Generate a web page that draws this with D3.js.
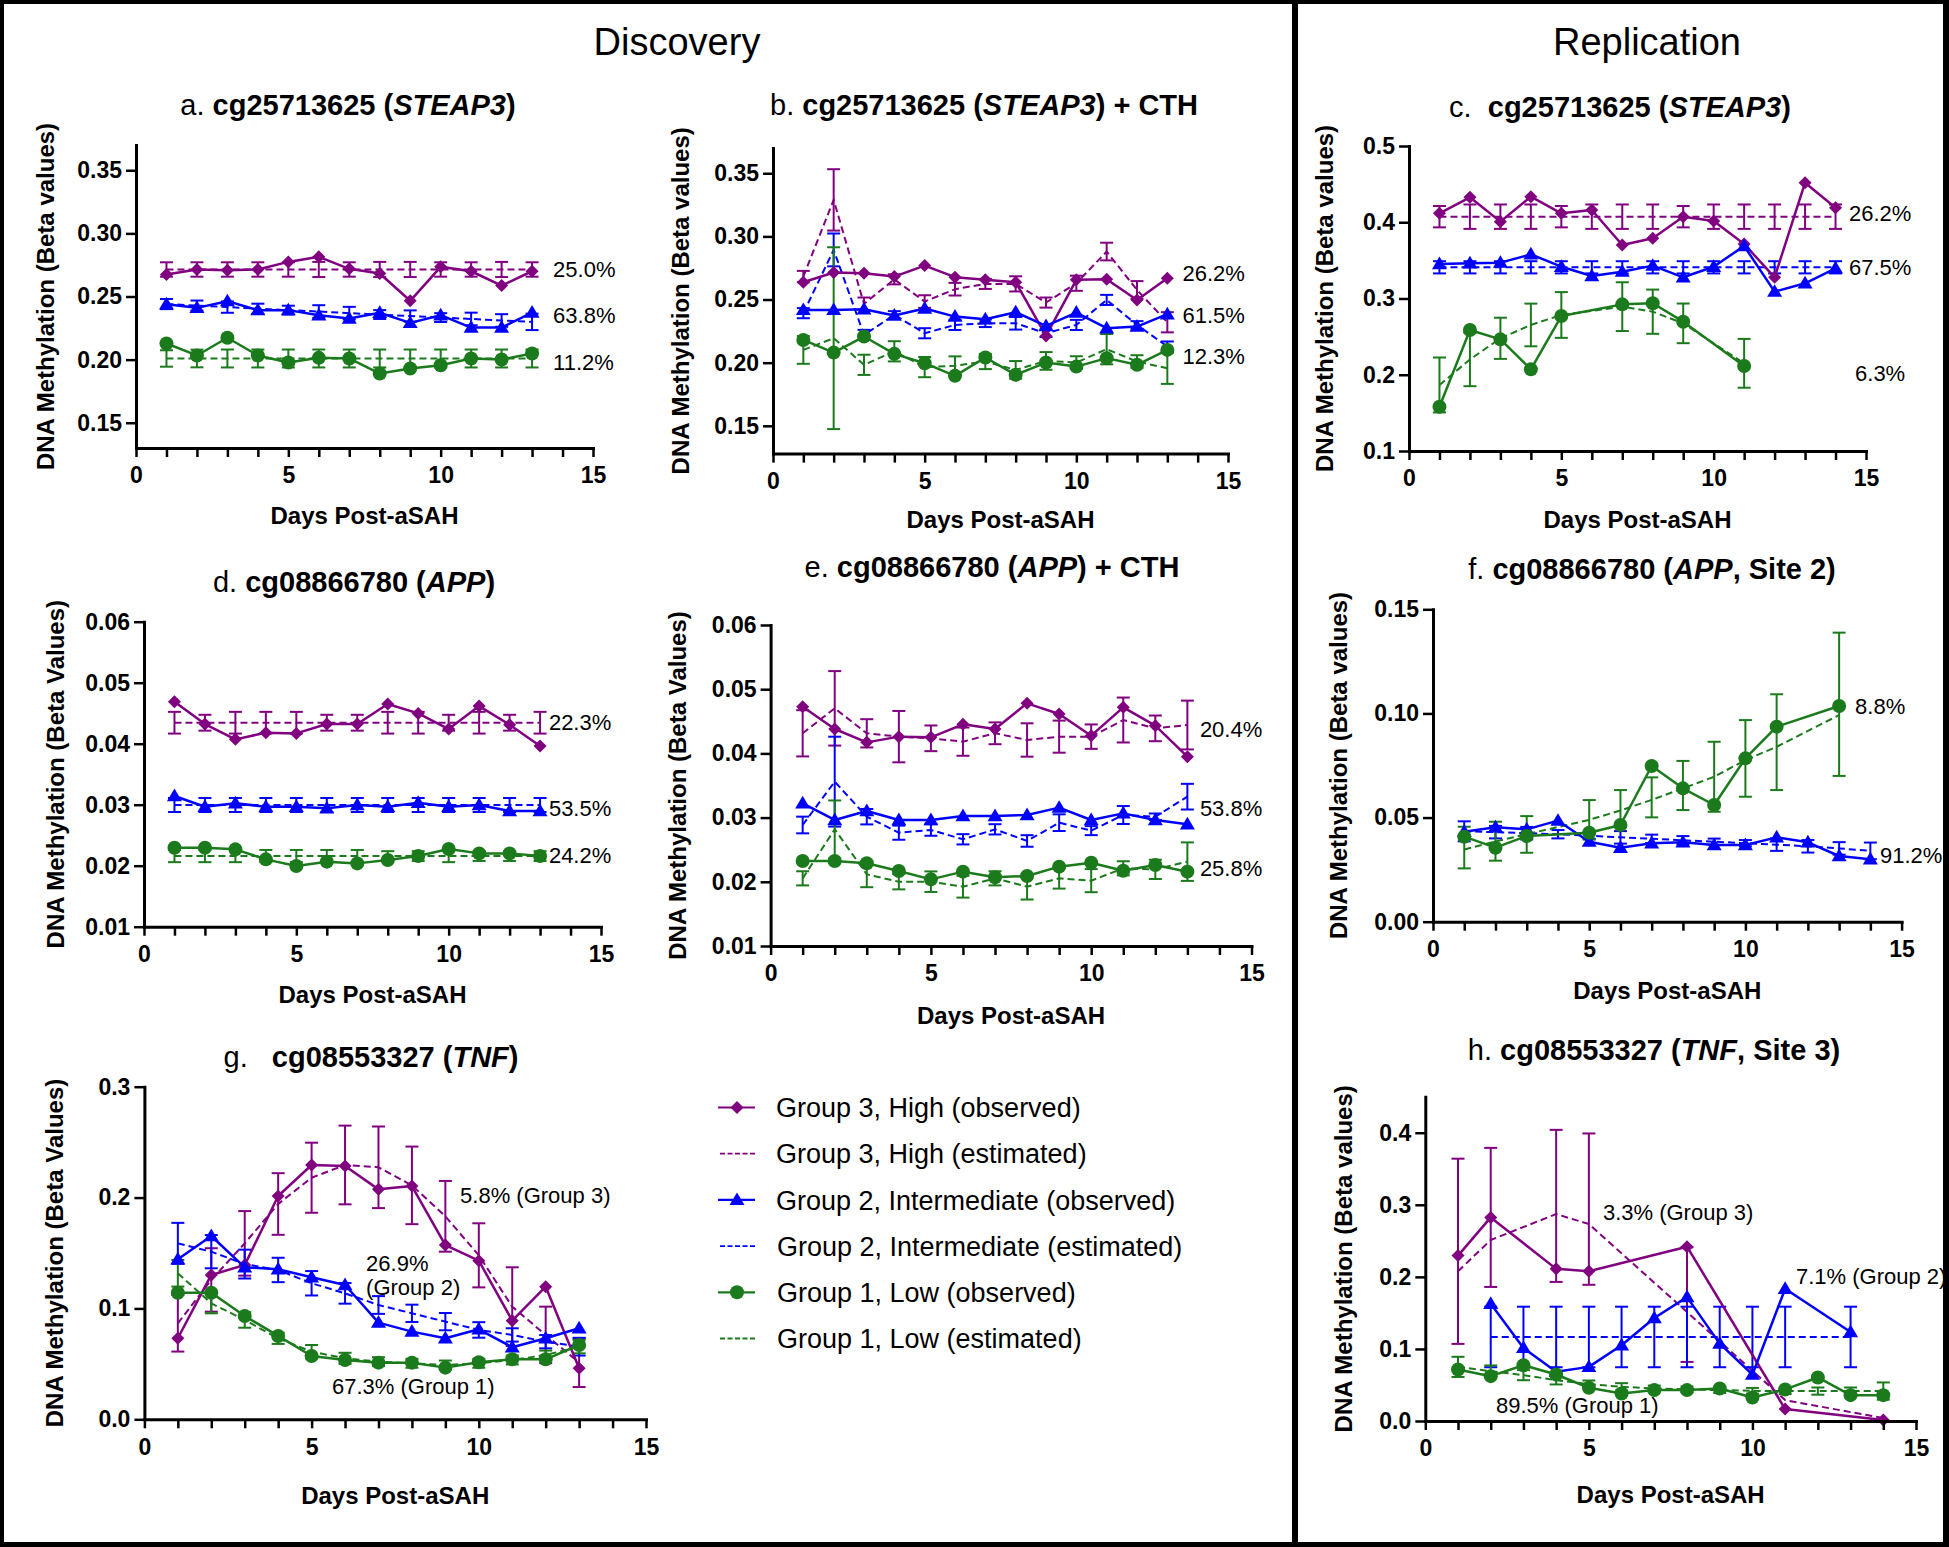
<!DOCTYPE html>
<html><head><meta charset="utf-8">
<script src="https://cdn.jsdelivr.net/npm/d3@7/dist/d3.min.js"></script>
<style>
html,body{margin:0;padding:0;background:#fff;}
svg{display:block;}
text{font-family:"Liberation Sans",Arial,Helvetica,sans-serif;}
</style></head><body>
<svg id="fig" width="1949" height="1547"></svg>
<script>
// ---------------- DATA ----------------
const X_TICKS = [0, 5, 10, 15];
const SECTION_TITLES = ["Discovery", "Replication"];
const LEGEND_LABELS = ["Group 3, High (observed)", "Group 3, High (estimated)",
  "Group 2, Intermediate (observed)", "Group 2, Intermediate (estimated)",
  "Group 1, Low (observed)", "Group 1, Low (estimated)"];

// a. cg25713625 (STEAP3) – discovery
const a_high_obs = [0.2674,0.2714,0.2708,0.2714,0.2774,0.2814,0.2719,0.2682,0.2466,0.2735,0.2700,0.2587,0.2700];
const a_high_est = [0.2714,0.2714,0.2714,0.2714,0.2714,0.2714,0.2714,0.2714,0.2714,0.2714,0.2714,0.2714,0.2714];
const a_high_err = [0.0057,0.0057,0.0057,0.0057,0.0057,0.0060,0.0057,0.0060,0.0060,0.0057,0.0057,0.0060,0.0057];
const a_mid_obs  = [0.2439,0.2410,0.2463,0.2392,0.2392,0.2352,0.2326,0.2371,0.2291,0.2352,0.2254,0.2254,0.2373];
const a_mid_est  = [0.2440,0.2428,0.2416,0.2403,0.2392,0.2381,0.2368,0.2357,0.2345,0.2333,0.2322,0.2310,0.2299];
const a_mid_err  = [0.0040,0.0040,0.0045,0.0040,0.0035,0.0050,0.0050,0.0035,0.0045,0.0035,0.0050,0.0050,0.0065];
const a_low_obs  = [0.2128,0.2033,0.2173,0.2033,0.1977,0.2014,0.2009,0.1890,0.1930,0.1956,0.2009,0.2001,0.2049];
const a_low_est  = [0.2009,0.2009,0.2009,0.2009,0.2009,0.2009,0.2009,0.2009,0.2009,0.2009,0.2009,0.2009,0.2009];
const a_low_err  = [0.0065,0.0070,0.0071,0.0071,0.0071,0.0071,0.0071,0.0071,0.0071,0.0071,0.0071,0.0071,0.0071];
const a_pcts = ["25.0%", "63.8%", "11.2%"];

// b. cg25713625 (STEAP3) + CTH
const b_high_obs = [0.2637,0.2714,0.2708,0.2682,0.2769,0.2677,0.2656,0.2637,0.2212,0.2656,0.2661,0.2497,0.2669];
const b_high_est = [0.2682,0.3289,0.2466,0.2660,0.2484,0.2582,0.2624,0.2624,0.2476,0.2629,0.2880,0.2576,0.2320];
const b_high_err = [0.0045,0.0243,0.0050,0.0040,0.0050,0.0050,0.0040,0.0060,0.0040,0.0060,0.0070,0.0070,0.0080];
const b_mid_obs  = [0.2418,0.2418,0.2423,0.2373,0.2429,0.2365,0.2344,0.2400,0.2291,0.2397,0.2273,0.2286,0.2384];
const b_mid_est  = [0.2392,0.2893,0.2220,0.2378,0.2233,0.2299,0.2312,0.2312,0.2233,0.2299,0.2497,0.2299,0.2128];
const b_mid_err  = [0.0040,0.0130,0.0040,0.0030,0.0040,0.0040,0.0030,0.0050,0.0030,0.0040,0.0040,0.0030,0.0040];
const b_low_obs  = [0.2180,0.2080,0.2207,0.2070,0.1996,0.1896,0.2041,0.1904,0.2001,0.1969,0.2036,0.1983,0.2101];
const b_low_est  = [0.2101,0.2194,0.1983,0.2090,0.1965,0.1975,0.2009,0.1943,0.2014,0.2001,0.2107,0.2009,0.1956];
const b_low_err  = [0.0110,0.0720,0.0080,0.0080,0.0080,0.0075,0.0060,0.0070,0.0070,0.0050,0.0120,0.0050,0.0124];
const b_pcts = ["26.2%", "61.5%", "12.3%"];

// c. cg25713625 (STEAP3) – replication
const c_high_obs = [0.4117,0.4327,0.4008,0.4336,0.4117,0.4161,0.3702,0.3789,0.4073,0.4016,0.3715,0.3278,0.4519,0.4191];
const c_high_est = [0.4073,0.4073,0.4073,0.4073,0.4073,0.4073,0.4073,0.4073,0.4073,0.4073,0.4073,0.4073,0.4073,0.4073];
const c_high_err = [0.0140,0.0160,0.0160,0.0160,0.0140,0.0160,0.0160,0.0160,0.0140,0.0160,0.0160,0.0160,0.0160,0.0160];
const c_mid_obs  = [0.3452,0.3461,0.3470,0.3579,0.3417,0.3295,0.3352,0.3431,0.3278,0.3417,0.3689,0.3090,0.3199,0.3396];
const c_mid_est  = [0.3409,0.3409,0.3409,0.3409,0.3409,0.3409,0.3409,0.3409,0.3409,0.3409,0.3409,0.3409,0.3409,0.3409];
const c_mid_err  = [0.0080,0.0080,0.0080,0.0080,0.0080,0.0080,0.0080,0.0080,0.0080,0.0080,0.0080,0.0080,0.0080,0.0080];
const c_low_obs  = [0.1581,0.2587,0.2464,0.2071,0.2770,null,0.2923,0.2937,0.2696,null,0.2115,null,null,null];
const c_low_est  = [0.1866,0.2200,0.2478,0.2653,0.2784,null,0.2893,0.2827,0.2674,null,0.2150,null,null,null];
const c_low_err  = [0.0360,0.0350,0.0270,0.0280,0.0300,null,0.0320,0.0290,0.0260,null,0.0320,null,null,null];
const c_pcts = ["26.2%", "67.5%", "6.3%"];

// d. cg08866780 (APP) – discovery
const d_high_obs = [0.04689,0.04322,0.04071,0.04180,0.04169,0.04322,0.04322,0.04650,0.04497,0.04240,0.04617,0.04311,0.03962];
const d_high_est = [0.04344,0.04344,0.04344,0.04344,0.04344,0.04344,0.04344,0.04344,0.04344,0.04344,0.04344,0.04344,0.04344];
const d_high_err = [0.00178,0.00130,0.00178,0.00178,0.00178,0.00130,0.00130,0.00178,0.00178,0.00130,0.00178,0.00130,0.00178];
const d_mid_obs  = [0.03142,0.02967,0.03022,0.02967,0.02967,0.02940,0.02995,0.02967,0.03033,0.02967,0.02995,0.02896,0.02896];
const d_mid_est  = [0.02995,0.02995,0.02995,0.02995,0.02995,0.02995,0.02995,0.02995,0.02995,0.02995,0.02995,0.02995,0.02995];
const d_mid_err  = [0.00115,0.00115,0.00115,0.00115,0.00115,0.00115,0.00115,0.00115,0.00115,0.00115,0.00115,0.00115,0.00115];
const d_low_obs  = [0.02295,0.02295,0.02268,0.02104,0.01995,0.02066,0.02038,0.02093,0.02158,0.02273,0.02202,0.02202,0.02158];
const d_low_est  = [0.02158,0.02158,0.02158,0.02158,0.02158,0.02158,0.02158,0.02158,0.02158,0.02158,0.02158,0.02158,0.02158];
const d_low_err  = [0.00100,0.00100,0.00100,0.00100,0.00100,0.00100,0.00100,0.00080,0.00080,0.00100,0.00080,0.00080,0.00080];
const d_pcts = ["22.3%", "53.5%", "24.2%"];

// e. cg08866780 (APP) + CTH
const e_high_obs = [0.04728,0.04380,0.04172,0.04261,0.04250,0.04453,0.04380,0.04780,0.04614,0.04276,0.04717,0.04432,0.03949];
const e_high_est = [0.04313,0.04702,0.04313,0.04261,0.04235,0.04183,0.04313,0.04209,0.04261,0.04261,0.04520,0.04390,0.04442];
const e_high_err = [0.00360,0.00580,0.00220,0.00400,0.00200,0.00220,0.00170,0.00260,0.00250,0.00190,0.00350,0.00200,0.00380];
const e_mid_obs  = [0.03222,0.02963,0.03103,0.02963,0.02963,0.03025,0.03025,0.03040,0.03155,0.02963,0.03066,0.02963,0.02896];
const e_mid_est  = [0.02885,0.03560,0.03014,0.02765,0.02807,0.02662,0.02817,0.02636,0.02921,0.02797,0.03040,0.03014,0.03326];
const e_mid_err  = [0.00130,0.00700,0.00120,0.00110,0.00090,0.00080,0.00080,0.00090,0.00130,0.00070,0.00140,0.00050,0.00200];
const e_low_obs  = [0.02324,0.02324,0.02288,0.02168,0.02038,0.02158,0.02070,0.02091,0.02236,0.02298,0.02173,0.02262,0.02158];
const e_low_est  = [0.02054,0.02817,0.02116,0.02002,0.02002,0.01924,0.02054,0.01924,0.02054,0.02018,0.02210,0.02194,0.02314];
const e_low_err  = [0.00110,0.00450,0.00200,0.00120,0.00160,0.00170,0.00110,0.00200,0.00160,0.00180,0.00110,0.00150,0.00300];
const e_pcts = ["20.4%", "53.8%", "25.8%"];

// f. cg08866780 (APP, Site 2) – replication (no Group 3)
const f_mid_obs = [0.04323,0.04531,0.04435,0.04851,0.03843,0.03554,0.03762,0.03811,0.03683,0.03683,0.04050,0.03811,0.03154,0.02994];
const f_mid_est = [0.0434,0.0430,0.0425,0.0420,0.0413,0.0405,0.0398,0.0391,0.0384,0.0377,0.0370,0.0362,0.0352,0.0340];
const f_mid_err = [0.0048,0.0030,0.0030,0.0020,0.0015,0.0030,0.0020,0.0020,0.0015,0.0015,0.0030,0.0030,0.0030,0.0040];
const f_low_obs = [0.04082,0.03554,0.04114,null,0.04274,0.04642,0.07476,0.06404,0.05603,0.07844,0.09365,null,0.10357,null];
const f_low_est = [0.0347,0.0385,0.0420,null,0.0489,0.0534,0.0585,0.0640,0.0696,0.0776,0.0840,null,0.0992,null];
const f_low_err = [[0.0256,0.0456],[0.0293,0.0480],[0.0331,0.0507],null,[0.0394,0.0584],[0.0456,0.0632],
                   [0.0501,0.0693],[0.0536,0.0772],[0.0528,0.0864],[0.0600,0.0968],[0.0632,0.1092],null,[0.0700,0.1388],null];
const f_pcts = ["91.2%", "8.8%"];

// g. cg08553327 (TNF) – discovery
const g_high_obs = [0.0731,0.1302,0.1392,0.2014,0.2294,0.2285,0.2074,0.2104,0.1572,0.1431,0.0890,0.1196,0.0460];
const g_high_est = [0.0866,0.1257,0.1587,0.1942,0.2179,0.2294,0.2273,0.2110,0.1831,0.1479,0.1016,0.0761,0.0511];
const g_high_err = [0.0255,0.0286,0.0291,0.0278,0.0316,0.0355,0.0368,0.0350,0.0319,0.0289,0.0355,0.0255,0.0220];
const g_mid_obs  = [0.1443,0.1653,0.1371,0.1353,0.1281,0.1211,0.0872,0.0791,0.0731,0.0812,0.0650,0.0731,0.0821];
const g_mid_est  = [0.1587,0.1512,0.1400,0.1347,0.1227,0.1136,0.1031,0.0956,0.0881,0.0806,0.0761,0.0700,0.0655];
const g_mid_err  = [0.0185,0.0150,0.0130,0.0110,0.0110,0.0093,0.0080,0.0078,0.0078,0.0070,0.0060,0.0060,0.0080];
const g_low_obs  = [0.1142,0.1142,0.0932,0.0752,0.0571,0.0535,0.0511,0.0511,0.0466,0.0514,0.0541,0.0541,0.0670];
const g_low_est  = [0.1317,0.1046,0.0896,0.0730,0.0610,0.0550,0.0520,0.0505,0.0490,0.0505,0.0535,0.0580,0.0655];
const g_low_err  = [0.0120,0.0090,0.0070,0.0050,0.0060,0.0050,0.0040,0.0040,0.0040,0.0040,0.0040,0.0040,0.0060];
const g_notes = ["5.8% (Group 3)", "26.9%", "(Group 2)", "67.3% (Group 1)"];

// h. cg08553327 (TNF, Site 3) – replication
const h_high_obs = [0.2295,0.2825,null,0.2111,0.2078,null,null,0.2419,null,null,0.0166,null,null,0.0014];
const h_high_est = [0.2078,0.2512,null,0.2871,0.2733,null,null,0.1512,null,null,0.0290,null,null,0.0040];
const h_high_err = [[0.107,0.364],[0.186,0.379],null,[0.193,0.404],[0.189,0.399],null,null,[0.082,0.241],null,null,null,null,null,null];
const h_mid_obs  = [null,0.1627,0.1014,0.0682,0.0751,0.1051,0.1429,0.1719,0.1074,0.0645,0.1834,null,0.1235,null];
const h_mid_est  = [null,0.1166,0.1166,0.1166,0.1166,0.1166,0.1166,0.1166,0.1166,0.1166,0.1166,null,0.1166,null];
const h_mid_err  = [null,0.0420,0.0420,0.0420,0.0420,0.0420,0.0420,0.0420,0.0420,0.0420,0.0420,null,0.0420,null];
const h_low_obs  = [0.0714,0.0622,0.0774,0.0645,0.0461,0.0382,0.0429,0.0429,0.0452,0.0327,0.0438,0.0604,0.0359,0.0359];
const h_low_est  = [0.0751,0.0691,0.0636,0.0567,0.0512,0.0475,0.0452,0.0438,0.0429,0.0419,0.0415,0.0415,0.0415,0.0415];
const h_low_err  = [0.0140,0.0080,0.0070,0.0060,0.0050,0.0050,0.0040,0.0040,0.0040,0.0040,0.0040,0.0050,0.0050,0.0120];
const h_notes = ["3.3% (Group 3)", "7.1% (Group 2)", "89.5% (Group 1)"];

// ---------------- STYLE / LAYOUT ----------------
const COL = { high: "#800080", mid: "#0000ff", low: "#1b7a1b" };
const FONT = '"Liberation Sans", Arial, Helvetica, sans-serif';
const Y_BETA_v = "DNA Methylation (Beta values)";
const Y_BETA_V = "DNA Methylation (Beta Values)";
const X_LAB = "Days Post-aSAH";
const FS = { tick: 23, axis: 24, title: 29, note: 22, legend: 27, section: 38 };

const PANELS = [
  { title:["a. ","cg25713625 (","STEAP3",")"], tx:348, ty:115, ylab:Y_BETA_v, ylx:46,
    xr:[136,593], yd:[0.13,0.37], yr:[448,145], yt:[0.15,0.20,0.25,0.30,0.35], fmt:".2f", xlabY:524,
    series:[{g:"high",obs:a_high_obs,est:a_high_est,err:a_high_err},{g:"mid",obs:a_mid_obs,est:a_mid_est,err:a_mid_err},{g:"low",obs:a_low_obs,est:a_low_est,err:a_low_err}],
    notes:[[a_pcts[0],13.69,0.2718],[a_pcts[1],13.69,0.2352],[a_pcts[2],13.69,0.1983]] },
  { title:["b. ","cg25713625 (","STEAP3",") + CTH"], tx:984, ty:115, ylab:Y_BETA_v, ylx:681,
    xr:[773,1228], yd:[0.128,0.37], yr:[453.6,148], yt:[0.15,0.20,0.25,0.30,0.35], fmt:".2f", xlabY:528,
    series:[{g:"high",obs:b_high_obs,est:b_high_est,err:b_high_err},{g:"mid",obs:b_mid_obs,est:b_mid_est,err:b_mid_err},{g:"low",obs:b_low_obs,est:b_low_est,err:b_low_err}],
    notes:[[b_pcts[0],13.5,0.2708],[b_pcts[1],13.5,0.2378],[b_pcts[2],13.5,0.2049]] },
  { title:["c.  ","cg25713625 (","STEAP3",")"], tx:1620, ty:117, ylab:Y_BETA_v, ylx:1325,
    xr:[1409,1866], yd:[0.1,0.5], yr:[451,146], yt:[0.1,0.2,0.3,0.4,0.5], fmt:".1f", xlabY:528,
    series:[{g:"high",obs:c_high_obs,est:c_high_est,err:c_high_err},{g:"mid",obs:c_mid_obs,est:c_mid_est,err:c_mid_err},{g:"low",obs:c_low_obs,est:c_low_est,err:c_low_err}],
    notes:[[c_pcts[0],14.44,0.4117],[c_pcts[1],14.44,0.3417],[c_pcts[2],14.64,0.2019]] },
  { title:["d. ","cg08866780 (","APP",")"], tx:354, ty:592, ylab:Y_BETA_V, ylx:56,
    xr:[144,601], yd:[0.01,0.06], yr:[926.7,621.7], yt:[0.01,0.02,0.03,0.04,0.05,0.06], fmt:".2f", xlabY:1003,
    series:[{g:"high",obs:d_high_obs,est:d_high_est,err:d_high_err},{g:"mid",obs:d_mid_obs,est:d_mid_est,err:d_mid_err},{g:"low",obs:d_low_obs,est:d_low_est,err:d_low_err}],
    notes:[[d_pcts[0],13.29,0.0435],[d_pcts[1],13.29,0.0294],[d_pcts[2],13.29,0.0217]] },
  { title:["e. ","cg08866780 (","APP",") + CTH"], tx:992, ty:577, ylab:Y_BETA_V, ylx:678,
    xr:[770.6,1251.5], yd:[0.01,0.06], yr:[946,625], yt:[0.01,0.02,0.03,0.04,0.05,0.06], fmt:".2f", xlabY:1024,
    series:[{g:"high",obs:e_high_obs,est:e_high_est,err:e_high_err},{g:"mid",obs:e_mid_obs,est:e_mid_est,err:e_mid_err},{g:"low",obs:e_low_obs,est:e_low_est,err:e_low_err}],
    notes:[[e_pcts[0],13.39,0.04375],[e_pcts[1],13.39,0.03144],[e_pcts[2],13.39,0.0221]] },
  { title:["f. ","cg08866780 (","APP",", Site 2)"], tx:1652, ty:579, ylab:Y_BETA_v, ylx:1339,
    xr:[1433,1901.6], yd:[0,0.15], yr:[921.7,609.3], yt:[0,0.05,0.10,0.15], fmt:".2f", xlabY:999,
    series:[{g:"mid",obs:f_mid_obs,est:f_mid_est,err:f_mid_err},{g:"low",obs:f_low_obs,est:f_low_est,err:f_low_err}],
    notes:[[f_pcts[1],13.51,0.1033],[f_pcts[0],14.31,0.032]] },
  { title:["g.   ","cg08553327 (","TNF",")"], tx:371, ty:1067, ylab:Y_BETA_V, ylx:55,
    xr:[144.4,646], yd:[0,0.3], yr:[1419.3,1086.7], yt:[0,0.1,0.2,0.3], fmt:".1f", xlabY:1504,
    series:[{g:"high",obs:g_high_obs,est:g_high_est,err:g_high_err},{g:"mid",obs:g_mid_obs,est:g_mid_est,err:g_mid_err},{g:"low",obs:g_low_obs,est:g_low_est,err:g_low_err}],
    notes:[[g_notes[0],9.44,0.2023],[g_notes[1],6.63,0.1407],[g_notes[2],6.63,0.119],[g_notes[3],5.61,0.030]] },
  { title:["h. ","cg08553327 (","TNF",", Site 3)"], tx:1654, ty:1060, ylab:Y_BETA_v, ylx:1344,
    xr:[1425.3,1916], yd:[0,0.45], yr:[1421,1096.7], yt:[0,0.1,0.2,0.3,0.4], fmt:".1f", xlabY:1503,
    series:[{g:"high",obs:h_high_obs,est:h_high_est,err:h_high_err},{g:"mid",obs:h_mid_obs,est:h_mid_est,err:h_mid_err},{g:"low",obs:h_low_obs,est:h_low_est,err:h_low_err}],
    notes:[[h_notes[0],5.43,0.2894],[h_notes[1],11.33,0.2005],[h_notes[2],2.16,0.0221]] }
];

const svg = d3.select("#fig");
svg.append("rect").attr("width",1949).attr("height",1547).attr("fill","#fff");

const MARK = {
  high: "M0,-6.5L6.5,0L0,6.5L-6.5,0Z",
  mid: "M0,-7.5L7.5,5.2L-7.5,5.2Z",
  low: d3.symbol().type(d3.symbolCircle).size(Math.PI*7*7)()
};

function styleAxis(sel){
  sel.attr("font-family", FONT);
  sel.select(".domain").attr("stroke","#000").attr("stroke-width",3).attr("stroke-linecap","square");
  sel.selectAll(".tick line").attr("stroke","#000").attr("stroke-width",2.5);
  sel.selectAll(".tick text").attr("fill","#000").attr("font-size",FS.tick).attr("font-weight","bold");
}

function drawPanel(p){
  const g = svg.append("g");
  const x = d3.scaleLinear().domain([0,15]).range(p.xr);
  const y = d3.scaleLinear().domain(p.yd).range(p.yr);

  // estimated (dashed) + error bars
  p.series.forEach(s=>{
    const c = COL[s.g];
    const pts = s.est.map((v,i)=>({d:i+1,v,e:s.err[i]})).filter(o=>o.v!=null);
    g.append("path").attr("d", d3.line().x(o=>x(o.d)).y(o=>y(o.v))(pts))
      .attr("fill","none").attr("stroke",c).attr("stroke-width",2).attr("stroke-dasharray","7,4");
    pts.filter(o=>o.e!=null).forEach(o=>{
      const lh = Array.isArray(o.e) ? o.e : [o.v-o.e, o.v+o.e];
      const cx = x(o.d), y1 = y(lh[0]), y2 = y(lh[1]);
      g.append("line").attr("x1",cx).attr("x2",cx).attr("y1",y1).attr("y2",y2).attr("stroke",c).attr("stroke-width",2);
      [y1,y2].forEach(yy=>g.append("line").attr("x1",cx-6.5).attr("x2",cx+6.5).attr("y1",yy).attr("y2",yy).attr("stroke",c).attr("stroke-width",2));
    });
  });
  // observed (solid + markers)
  p.series.forEach(s=>{
    const c = COL[s.g];
    const pts = s.obs.map((v,i)=>({d:i+1,v})).filter(o=>o.v!=null);
    g.append("path").attr("d", d3.line().x(o=>x(o.d)).y(o=>y(o.v))(pts))
      .attr("fill","none").attr("stroke",c).attr("stroke-width",2.5).attr("stroke-linejoin","round");
    g.selectAll(null).data(pts).join("path")
      .attr("d", MARK[s.g]).attr("transform",o=>`translate(${x(o.d)},${y(o.v)})`).attr("fill",c);
  });

  // axes
  const xa = g.append("g").attr("transform",`translate(0,${p.yr[0]})`)
    .call(d3.axisBottom(x).tickValues(d3.range(0,16)).tickFormat(d=>X_TICKS.includes(d)?d:"")
      .tickSize(9).tickSizeOuter(0).tickPadding(10));
  styleAxis(xa);
  const ya = g.append("g").attr("transform",`translate(${p.xr[0]},0)`)
    .call(d3.axisLeft(y).tickValues(p.yt).tickFormat(d3.format(p.fmt)).tickSize(10).tickSizeOuter(0).tickPadding(4));
  styleAxis(ya);

  // axis titles
  g.append("text").attr("x",(p.xr[0]+p.xr[1])/2).attr("y",p.xlabY).attr("text-anchor","middle")
    .attr("font-size",FS.axis).attr("font-weight","bold").text(X_LAB);
  const yc = (p.yr[0]+p.yr[1])/2;
  g.append("text").attr("transform",`translate(${p.ylx},${yc}) rotate(-90)`).attr("text-anchor","middle")
    .attr("dy","0.35em").attr("font-size",FS.axis).attr("font-weight","bold").text(p.ylab);

  // panel title
  const t = g.append("text").attr("x",p.tx).attr("y",p.ty).attr("text-anchor","middle")
    .attr("font-size",FS.title).style("white-space","pre");
  t.append("tspan").attr("font-weight","normal").text(p.title[0]);
  t.append("tspan").attr("font-weight","bold").text(p.title[1]);
  t.append("tspan").attr("font-weight","bold").attr("font-style","italic").text(p.title[2]);
  t.append("tspan").attr("font-weight","bold").text(p.title[3]);

  // annotations
  p.notes.forEach(n=>{
    g.append("text").attr("x",x(n[1])).attr("y",y(n[2])).attr("dy","0.36em")
      .attr("font-size",FS.note).attr("fill","#000").text(n[0]);
  });
}

PANELS.forEach(drawPanel);

// section headers
svg.append("text").attr("x",677).attr("y",55).attr("text-anchor","middle").attr("font-size",FS.section).text(SECTION_TITLES[0]);
svg.append("text").attr("x",1647).attr("y",55).attr("text-anchor","middle").attr("font-size",FS.section).text(SECTION_TITLES[1]);

// legend
const LEG_GROUPS = ["high","high","mid","mid","low","low"];
LEGEND_LABELS.forEach((lab,i)=>{
  const yc = 1107.5 + i*46.2;
  const c = COL[LEG_GROUPS[i]];
  const observed = i%2===0;
  const x0 = observed ? 718 : 720, x1 = observed ? 755 : 757;
  svg.append("line").attr("x1",x0).attr("x2",x1).attr("y1",yc).attr("y2",yc).attr("stroke",c)
    .attr("stroke-width", observed?2.2:1.8).attr("stroke-dasharray", observed?null:"5,2.5");
  if (observed) svg.append("path").attr("d",MARK[LEG_GROUPS[i]]).attr("transform",`translate(737,${yc})`).attr("fill",c);
  svg.append("text").attr("x", i<3?776:777).attr("y",yc).attr("dy","0.36em").attr("font-size",FS.legend).text(lab);
});

// frame and divider
[[0,0,1949,4],[0,0,4,1547],[1943,0,6,1547],[0,1542,1949,5],[1292,0,6,1547]].forEach(r=>
  svg.append("rect").attr("x",r[0]).attr("y",r[1]).attr("width",r[2]).attr("height",r[3]).attr("fill","#000"));
</script></body></html>
